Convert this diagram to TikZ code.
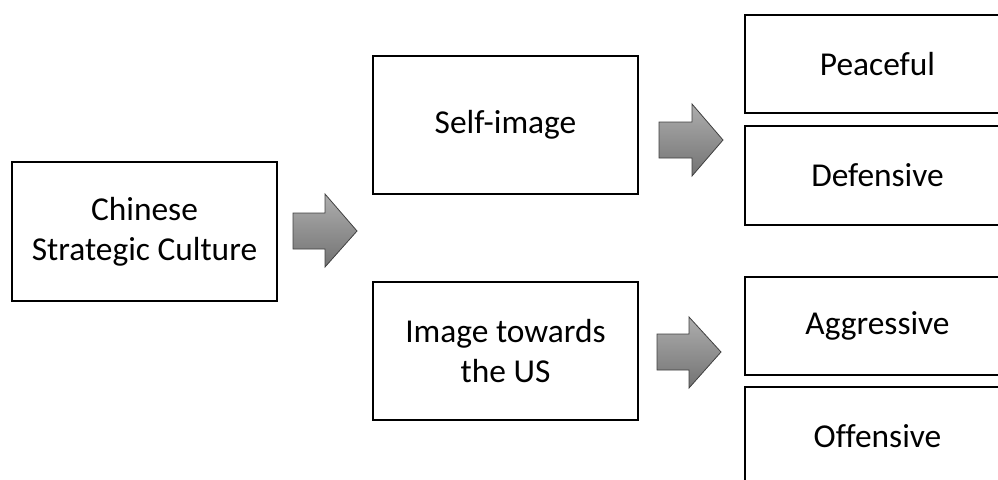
\documentclass[tikz,border=0pt]{standalone}
\usepackage{fontspec}
\setmainfont[Ligatures=NoCommon]{Carlito}
\begin{document}
\begin{tikzpicture}[x=1pt,y=-1pt,
  box/.style={draw=black,line width=1.5pt,rectangle,minimum width=265pt,align=center,
    font=\fontsize{33.4}{40}\selectfont,inner sep=0pt},
  blockarrow/.style={draw=black!75,line width=0.8pt,top color=black!32,bottom color=black!55,line join=miter}]
\useasboundingbox (0,0) rectangle (998,479);
\clip (0,0) rectangle (998,479);
\node[box,minimum height=139pt] (csc) at (144.5,231.5) {Chinese\\Strategic Culture};
\node[box,minimum height=138pt] (self) at (505.5,125) {Self-image};
\node[box,minimum height=138pt] (img) at (505.5,351) {Image towards\\the US};
\node[box,minimum height=98pt] (peace) at (877.5,64) {Peaceful};
\node[box,minimum height=99pt] (def) at (877.5,175.5) {Defensive};
\node[box,minimum height=98pt] (agg) at (877.5,326) {Aggressive};
\node[box,minimum height=99pt] (off) at (877.5,436.5) {Offensive};
% block arrows
\shade[blockarrow] (293,213) -- (325,213) -- (325,194) -- (357,231) -- (325,267) -- (325,249) -- (293,249) -- cycle;
\shade[blockarrow] (659,122) -- (692,122) -- (692,104) -- (723,140) -- (692,176) -- (692,158) -- (659,158) -- cycle;
\shade[blockarrow] (657,334) -- (689,334) -- (689,317) -- (721,352) -- (689,388) -- (689,370) -- (657,370) -- cycle;
\end{tikzpicture}
\end{document}
